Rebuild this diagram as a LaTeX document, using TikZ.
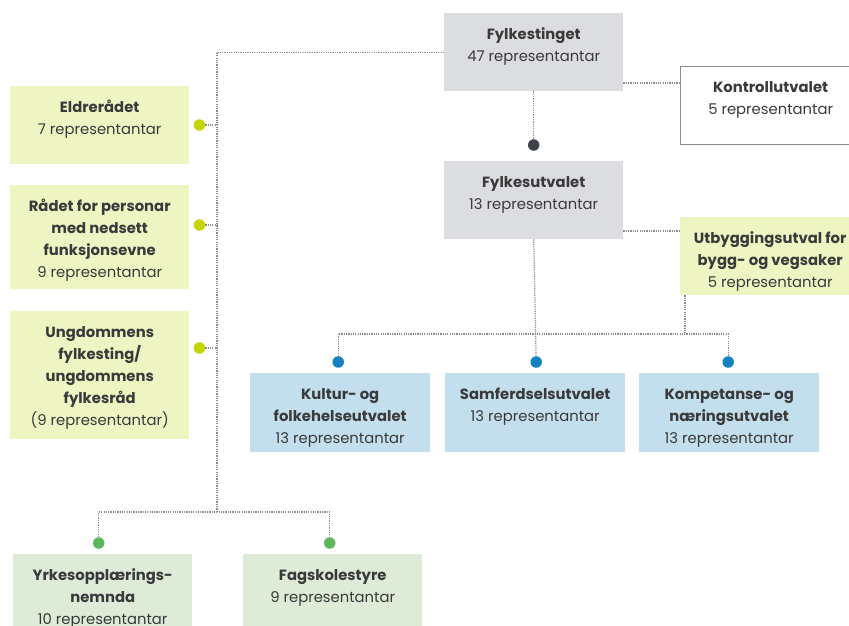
\documentclass[tikz,border=0pt]{standalone}
\usepackage{fontspec}
\setmainfont{Poppins}
\usetikzlibrary{calc}
\definecolor{cgray}{HTML}{DCDDE0}
\definecolor{clime}{HTML}{EEF4C2}
\definecolor{cblue}{HTML}{C3DFEE}
\definecolor{cgreen}{HTML}{DDEBD7}
\definecolor{dlime}{HTML}{C6D400}
\definecolor{dblue}{HTML}{1681C1}
\definecolor{dgreen}{HTML}{5CB85C}
\definecolor{ddark}{HTML}{3D4249}
\definecolor{cline}{HTML}{8A8A8A}
\definecolor{ctext}{HTML}{3A3A3A}
\newcommand\bt[3]{\parbox[c][#2][t]{#1}{\centering\fontsize{14.8}{22}\selectfont\rule{0pt}{26pt}#3}}
\newcommand\ti[1]{{\bfseries #1}}
\begin{document}
\begin{tikzpicture}[x=1pt,y=-1pt,
  box/.style={inner sep=0pt, anchor=north west, text=ctext},
  dot/.style={circle, inner sep=0pt, minimum size=11.5pt, draw=none},
  dl/.style={draw=cline, line width=1.2pt, dash pattern=on 1.2pt off 1.1pt}]
\clip (0,0) rectangle (849,625);
\fill[white] (0,0) rectangle (849,625);
% boxes
\node[box,fill=cgray] (fylkesting) at (444,13) {\bt{179pt}{78pt}{\ti{Fylkestinget}\\47 representantar}};
\node[box,fill=cgray] (fylkesutval) at (444,161) {\bt{179pt}{78pt}{\ti{Fylkesutvalet}\\13 representantar}};
\node[box,fill=white,draw=cline,line width=1.3pt] (kontroll) at (680,66) {\bt{180pt}{78pt}{\ti{Kontrollutvalet}\\5 representantar}};
\node[box,fill=clime] (utbygging) at (680,217) {\bt{180pt}{78pt}{\ti{Utbyggingsutval for\\bygg- og vegsaker}\\5 representantar}};
\node[box,fill=clime] (eldre) at (10,86) {\bt{179pt}{78pt}{\ti{Eldrerådet}\\7 representantar}};
\node[box,fill=clime] (raadet) at (10,185) {\bt{179pt}{104pt}{\ti{Rådet for personar\\med nedsett\\funksjonsevne}\\9 representantar}};
\node[box,fill=clime] (ungdom) at (10,311) {\bt{179pt}{128pt}{\ti{Ungdommens\\fylkesting/\\ungdommens\\fylkesråd}\\(9 representantar)}};
\node[box,fill=cblue] (kultur) at (250,373) {\bt{180pt}{79pt}{\ti{Kultur- og\\folkehelseutvalet}\\13 representantar}};
\node[box,fill=cblue] (samferdsel) at (445,373) {\bt{180pt}{79pt}{\ti{Samferdselsutvalet}\\13 representantar}};
\node[box,fill=cblue] (kompetanse) at (639,373) {\bt{180pt}{79pt}{\ti{Kompetanse- og\\næringsutvalet}\\13 representantar}};
\node[box,fill=cgreen] (yrkes) at (13,554) {\bt{179pt}{78pt}{\ti{Yrkesopplærings-\\nemnda}\\10 representantar}};
\node[box,fill=cgreen] (fagskole) at (243,554) {\bt{179pt}{78pt}{\ti{Fagskolestyre}\\9 representantar}};
% dots
\node[dot,fill=ddark] (dd) at ($(fylkesutval.north)+(0,-16)$) {};
\node[dot,fill=dlime] (de) at ($(eldre.north east)+(10,39)$) {};
\node[dot,fill=dlime] (dr) at ($(raadet.north east)+(10,40)$) {};
\node[dot,fill=dlime] (du) at ($(ungdom.north east)+(10,37)$) {};
\node[dot,fill=dblue] (dk) at ($(kultur.north)+(-2,-11)$) {};
\node[dot,fill=dblue] (ds) at ($(samferdsel.north)+(1,-11)$) {};
\node[dot,fill=dblue] (dm) at ($(kompetanse.north)+(-1,-11)$) {};
\node[dot,fill=dgreen] (dy) at ($(yrkes.north)+(-4,-11)$) {};
\node[dot,fill=dgreen] (df) at ($(fagskole.north)+(-3,-11)$) {};
% junctions
\coordinate (trunkbot) at (217,512);
\coordinate (bus) at (0,334);
\coordinate (ub) at ($(utbygging.south west)+(5,0)$);
% connectors
\draw[dl] (fylkesting.west) -| (trunkbot);
\draw[dl] (de) -- (de -| trunkbot);
\draw[dl] (dr) -- (dr -| trunkbot);
\draw[dl] (du) -- (du -| trunkbot);
\draw[dl] (dy) -- (dy |- trunkbot) -- (df |- trunkbot) -- (df);
\draw[dl] (fylkesting.east |- 0,83) -- (kontroll.west |- 0,83);
\draw[dl] (fylkesting.south) -- (dd);
\draw[dl] (fylkesutval.east |- 0,231) -- (utbygging.west |- 0,231);
\draw[dl] (fylkesutval.south) -- (ds);
\draw[dl] (dk) -- (dk |- bus) -- (dm |- bus) -- (dm);
\draw[dl] (ub) -- (ub |- bus);
\end{tikzpicture}
\end{document}
